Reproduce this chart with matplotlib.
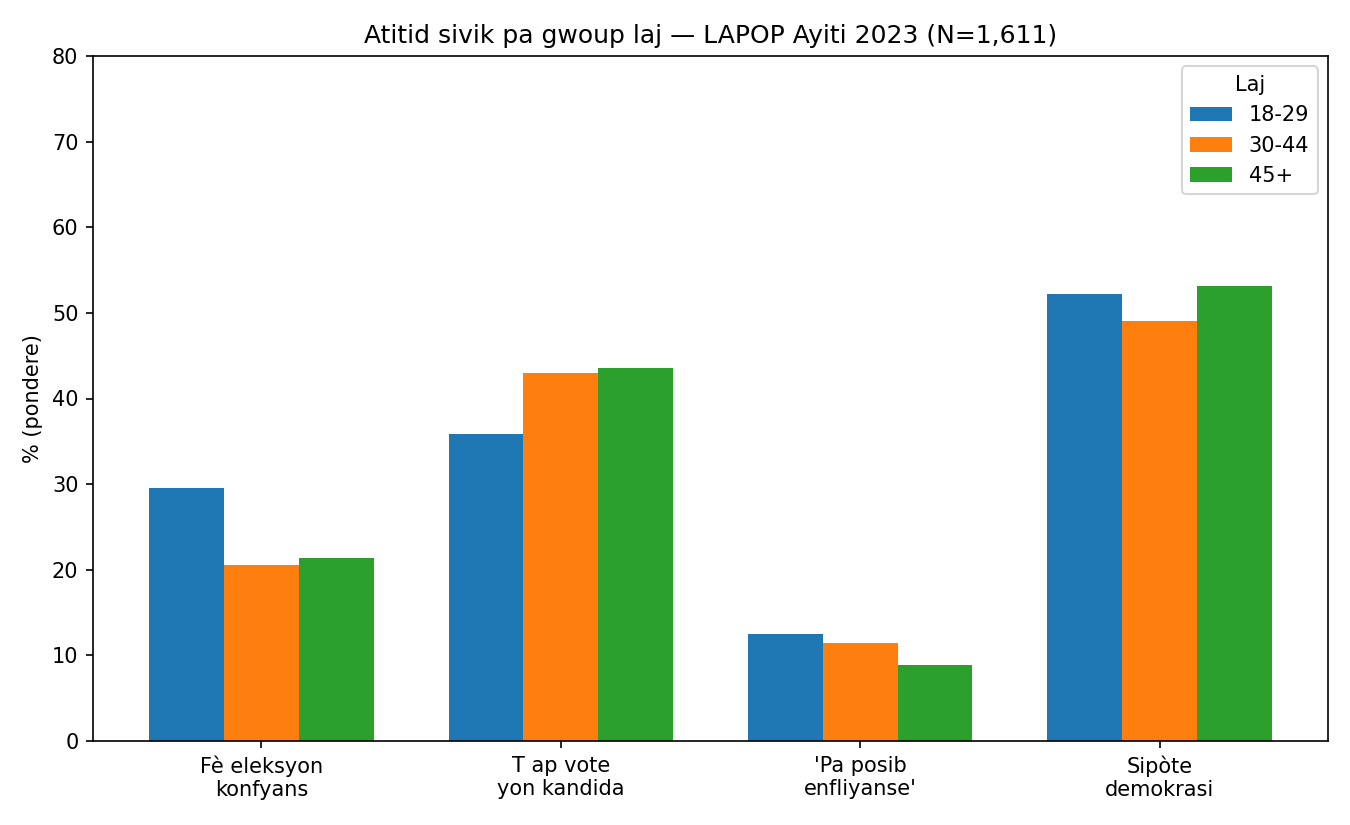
import matplotlib
matplotlib.use("Agg")
import matplotlib.pyplot as plt
import numpy as np

categories = ["Fè eleksyon\nkonfyans", "T ap vote\nyon kandida", "'Pa posib\nenfliyanse'", "Sipòte\ndemokrasi"]
groups = ["18-29", "30-44", "45+"]
v_18_29 = [29.6, 35.8, 12.5, 52.2]
v_30_44 = [20.6, 43.0, 11.5, 49.1]
v_45p = [21.4, 43.6, 8.9, 53.1]
colors = ["#1f77b4", "#ff7f0e", "#2ca02c"]

fig, ax = plt.subplots(figsize=(9, 5.5), dpi=150)
x = np.arange(len(categories))
w = 0.25
for i, (lab, vals) in enumerate(zip(groups, [v_18_29, v_30_44, v_45p])):
    ax.bar(x + (i - 1) * w, vals, w, label=lab, color=colors[i])
ax.set_xticks(x)
ax.set_xticklabels(categories)
ax.set_ylim(0, 80)
ax.set_ylabel("% (pondere)")
ax.set_title("Atitid sivik pa gwoup laj — LAPOP Ayiti 2023 (N=1,611)")
ax.legend(title="Laj", loc="upper right")
fig.subplots_adjust(left=93/1350, right=1328/1350, top=1-56/825, bottom=1-741/825)
fig.savefig("out.png", dpi=150)
